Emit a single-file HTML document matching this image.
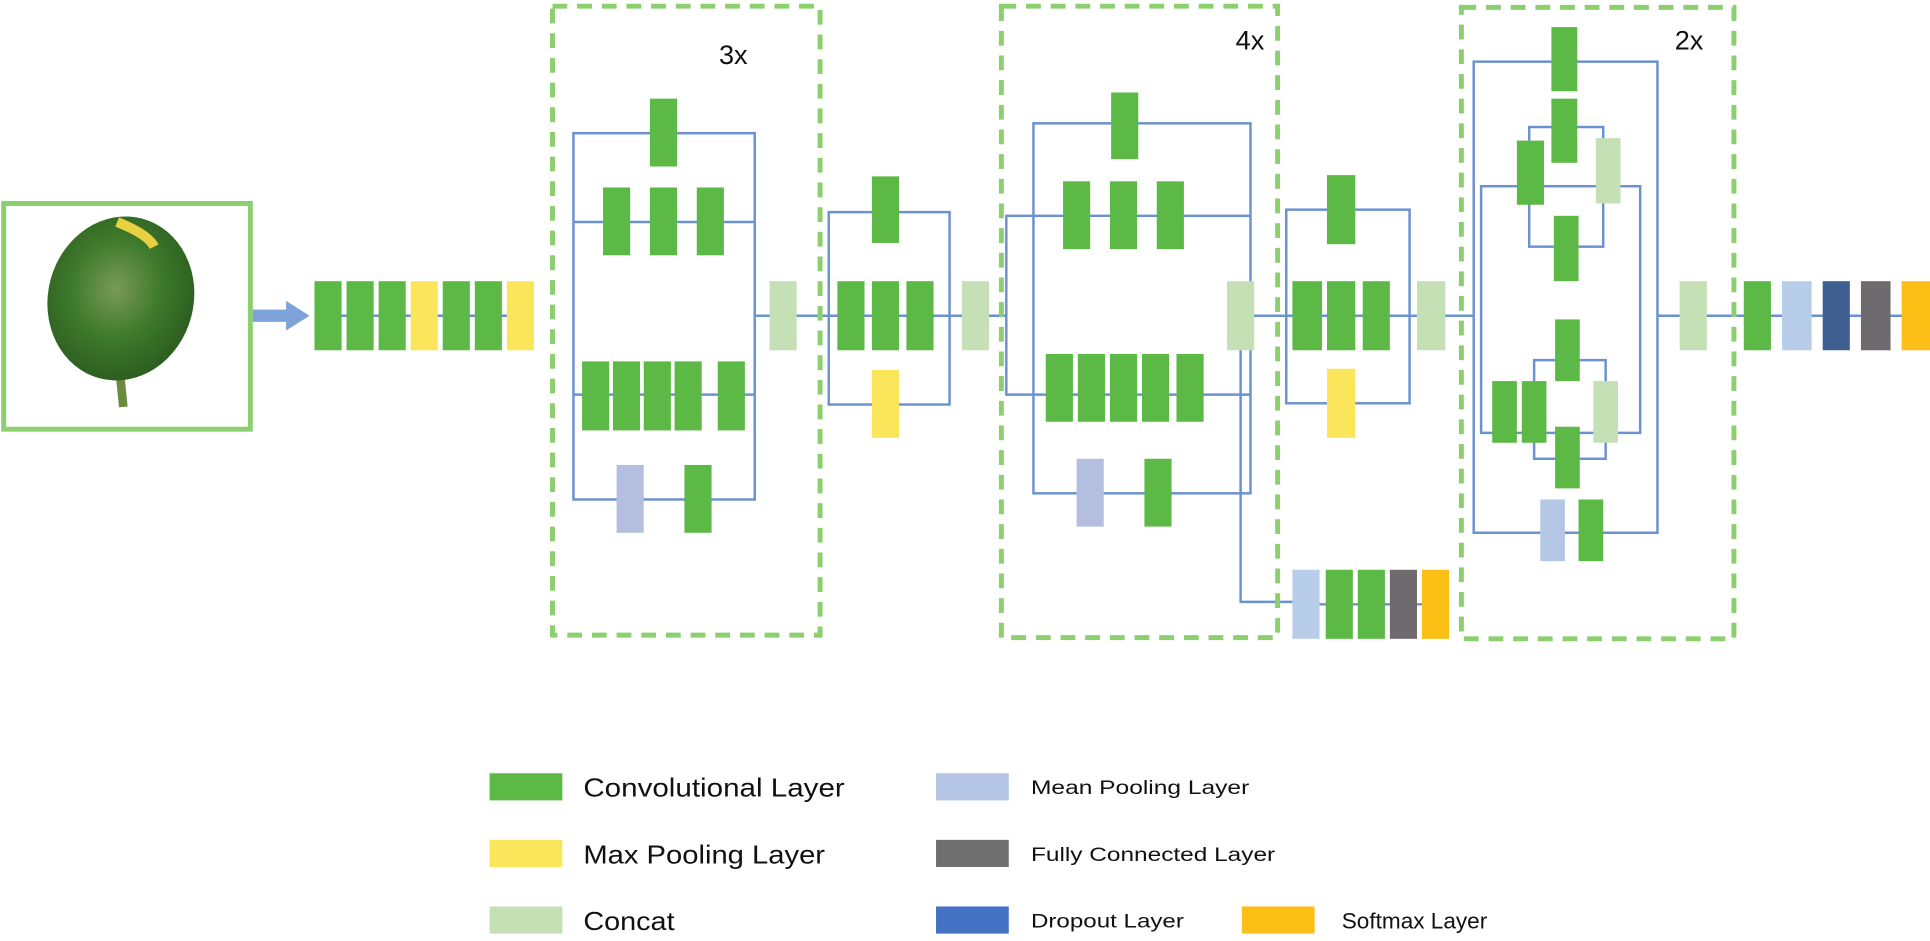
<!DOCTYPE html>
<html><head><meta charset="utf-8"><style>
html,body{margin:0;padding:0;background:#fff;}
svg{display:block;}
text{font-family:"Liberation Sans",sans-serif;fill:#111;}
</style></head><body>
<svg width="1930" height="941" viewBox="0 0 1565 763" preserveAspectRatio="none" xmlns="http://www.w3.org/2000/svg">
<defs>
<radialGradient id="lf" cx="0.45" cy="0.45" r="0.6">
<stop offset="0" stop-color="#7a9a5a"/><stop offset="0.5" stop-color="#3f7a2c"/><stop offset="1" stop-color="#2a5a1e"/>
</radialGradient>
</defs>
<g fill="none" stroke="#6b92d0" stroke-width="2">
<!-- stem line -->
<line x1="255" y1="256" x2="433" y2="256"/>
<!-- box1 -->
<rect x="465" y="108" width="147" height="297"/>
<line x1="465" y1="180" x2="612" y2="180"/>
<line x1="465" y1="320" x2="612" y2="320"/>
<line x1="612" y1="256" x2="672" y2="256"/>
<!-- box2 -->
<rect x="672" y="172" width="98" height="156"/>
<line x1="672" y1="256" x2="816" y2="256"/>
<!-- box3 -->
<rect x="838" y="100" width="176" height="300"/>
<line x1="838" y1="175" x2="1014" y2="175"/>
<line x1="838" y1="320" x2="1014" y2="320"/>
<polyline points="838,175 816,175 816,320 838,320"/>
<line x1="1014" y1="256" x2="1043" y2="256"/>
<polyline points="1006,284 1006,488 1048,488"/>
<line x1="1048" y1="490" x2="1175" y2="490"/>
<!-- box4 -->
<rect x="1043" y="170" width="100" height="157"/>
<line x1="1043" y1="256" x2="1195" y2="256"/>
<!-- 2x -->
<rect x="1195" y="50" width="149" height="382"/>
<rect x="1240" y="103" width="60" height="97"/>
<rect x="1201" y="151" width="129" height="200"/>
<rect x="1244" y="292" width="58" height="80"/>
<line x1="1195" y1="432" x2="1344" y2="432"/>
<line x1="1344" y1="256" x2="1565" y2="256"/>
</g>
<!-- dashed boxes -->
<g fill="none" stroke="#8ccf6e" stroke-width="4" stroke-dasharray="12 8">
<rect x="448" y="5" width="217" height="510"/>
<rect x="812" y="5" width="224" height="512"/>
<rect x="1185" y="6" width="221" height="512"/>
</g>
<text x="583" y="52" font-size="22">3x</text>
<text x="1002" y="40" font-size="22">4x</text>
<text x="1358" y="40" font-size="22">2x</text>
<!-- leaf -->
<rect x="3" y="165" width="200" height="183" fill="none" stroke="#8ccf6e" stroke-width="4"/>
<path d="M97,300 L100,330" stroke="#6a8a40" stroke-width="7"/>
<ellipse cx="98" cy="242" rx="59" ry="67" transform="rotate(15 98 242)" fill="url(#lf)"/>
<path d="M95,180 Q120,190 125,200" stroke="#e8d040" stroke-width="8" fill="none"/>
<!-- arrow -->
<rect x="205" y="251" width="30" height="10" fill="#7ea3d8"/>
<polygon points="232,244 251,256 232,268" fill="#7ea3d8"/>
<g>
<!-- stem blocks -->
<rect x="255" y="228" width="22" height="56" fill="#5cb946"/>
<rect x="281" y="228" width="22" height="56" fill="#5cb946"/>
<rect x="307" y="228" width="22" height="56" fill="#5cb946"/>
<rect x="333" y="228" width="22" height="56" fill="#fbe55a"/>
<rect x="359" y="228" width="22" height="56" fill="#5cb946"/>
<rect x="385" y="228" width="22" height="56" fill="#5cb946"/>
<rect x="411" y="228" width="22" height="56" fill="#fbe55a"/>
<!-- box1 -->
<rect x="527" y="80" width="22" height="55" fill="#5cb946"/>
<rect x="489" y="152" width="22" height="55" fill="#5cb946"/>
<rect x="527" y="152" width="22" height="55" fill="#5cb946"/>
<rect x="565" y="152" width="22" height="55" fill="#5cb946"/>
<rect x="472" y="293" width="22" height="56" fill="#5cb946"/>
<rect x="497" y="293" width="22" height="56" fill="#5cb946"/>
<rect x="522" y="293" width="22" height="56" fill="#5cb946"/>
<rect x="547" y="293" width="22" height="56" fill="#5cb946"/>
<rect x="582" y="293" width="22" height="56" fill="#5cb946"/>
<rect x="500" y="377" width="22" height="55" fill="#b4bfe0"/>
<rect x="555" y="377" width="22" height="55" fill="#5cb946"/>
<rect x="624" y="228" width="22" height="56" fill="#c4e0b4"/>
<!-- box2 -->
<rect x="707" y="143" width="22" height="54" fill="#5cb946"/>
<rect x="679" y="228" width="22" height="56" fill="#5cb946"/>
<rect x="707" y="228" width="22" height="56" fill="#5cb946"/>
<rect x="735" y="228" width="22" height="56" fill="#5cb946"/>
<rect x="707" y="300" width="22" height="55" fill="#fbe55a"/>
<rect x="780" y="228" width="22" height="56" fill="#c4e0b4"/>
<!-- box3 -->
<rect x="901" y="75" width="22" height="54" fill="#5cb946"/>
<rect x="862" y="147" width="22" height="55" fill="#5cb946"/>
<rect x="900" y="147" width="22" height="55" fill="#5cb946"/>
<rect x="938" y="147" width="22" height="55" fill="#5cb946"/>
<rect x="848" y="287" width="22" height="55" fill="#5cb946"/>
<rect x="874" y="287" width="22" height="55" fill="#5cb946"/>
<rect x="900" y="287" width="22" height="55" fill="#5cb946"/>
<rect x="926" y="287" width="22" height="55" fill="#5cb946"/>
<rect x="954" y="287" width="22" height="55" fill="#5cb946"/>
<rect x="873" y="372" width="22" height="55" fill="#b4bfe0"/>
<rect x="928" y="372" width="22" height="55" fill="#5cb946"/>
<rect x="995" y="228" width="22" height="56" fill="#c4e0b4"/>
<!-- bottom aux -->
<rect x="1048" y="462" width="22" height="56" fill="#b8cde9"/>
<rect x="1075" y="462" width="22" height="56" fill="#5cb946"/>
<rect x="1101" y="462" width="22" height="56" fill="#5cb946"/>
<rect x="1127" y="462" width="22" height="56" fill="#6f6a6e"/>
<rect x="1153" y="462" width="22" height="56" fill="#fbbf16"/>
<!-- box4 -->
<rect x="1076" y="142" width="23" height="56" fill="#5cb946"/>
<rect x="1048" y="228" width="24" height="56" fill="#5cb946"/>
<rect x="1076" y="228" width="23" height="56" fill="#5cb946"/>
<rect x="1105" y="228" width="22" height="56" fill="#5cb946"/>
<rect x="1076" y="299" width="23" height="56" fill="#fbe55a"/>
<rect x="1149" y="228" width="23" height="56" fill="#c4e0b4"/>
<!-- 2x internals -->
<rect x="1258" y="22" width="21" height="52" fill="#5cb946"/>
<rect x="1258" y="80" width="21" height="52" fill="#5cb946"/>
<rect x="1230" y="114" width="22" height="52" fill="#5cb946"/>
<rect x="1294" y="112" width="20" height="53" fill="#c4e0b4"/>
<rect x="1260" y="175" width="20" height="53" fill="#5cb946"/>
<rect x="1261" y="259" width="20" height="50" fill="#5cb946"/>
<rect x="1210" y="309" width="20" height="50" fill="#5cb946"/>
<rect x="1234" y="309" width="20" height="50" fill="#5cb946"/>
<rect x="1292" y="309" width="20" height="50" fill="#c4e0b4"/>
<rect x="1261" y="346" width="20" height="50" fill="#5cb946"/>
<rect x="1249" y="405" width="20" height="50" fill="#b4c8e6"/>
<rect x="1280" y="405" width="20" height="50" fill="#5cb946"/>
<!-- tail -->
<rect x="1362" y="228" width="22" height="56" fill="#c4e0b4"/>
<rect x="1414" y="228" width="22" height="56" fill="#5cb946"/>
<rect x="1445" y="228" width="24" height="56" fill="#b8cde9"/>
<rect x="1478" y="228" width="22" height="56" fill="#3f5e91"/>
<rect x="1509" y="228" width="24" height="56" fill="#6f6a6e"/>
<rect x="1542" y="228" width="23" height="56" fill="#fbbf16"/>
</g>
<!-- legend -->
<rect x="397" y="627" width="59" height="22" fill="#5cb946"/>
<rect x="397" y="681" width="59" height="22" fill="#fbe55a"/>
<rect x="397" y="735" width="59" height="22" fill="#c4e0b4"/>
<rect x="759" y="627" width="59" height="22" fill="#b4c4e4"/>
<rect x="759" y="681" width="59" height="22" fill="#6f6f6f"/>
<rect x="759" y="735" width="59" height="22" fill="#4472c4"/>
<rect x="1007" y="735" width="59" height="22" fill="#fbbf16"/>
<text x="473" y="646" font-size="21" textLength="212" lengthAdjust="spacingAndGlyphs">Convolutional Layer</text>
<text x="473" y="700" font-size="21" textLength="196" lengthAdjust="spacingAndGlyphs">Max Pooling Layer</text>
<text x="473" y="754" font-size="21" textLength="74" lengthAdjust="spacingAndGlyphs">Concat</text>
<text x="836" y="644" font-size="16" textLength="177" lengthAdjust="spacingAndGlyphs">Mean Pooling Layer</text>
<text x="836" y="698" font-size="16" textLength="198" lengthAdjust="spacingAndGlyphs">Fully Connected Layer</text>
<text x="836" y="752" font-size="16" textLength="124" lengthAdjust="spacingAndGlyphs">Dropout Layer</text>
<text x="1088" y="753" font-size="18" textLength="118" lengthAdjust="spacingAndGlyphs">Softmax Layer</text>
</svg>
</body></html>
